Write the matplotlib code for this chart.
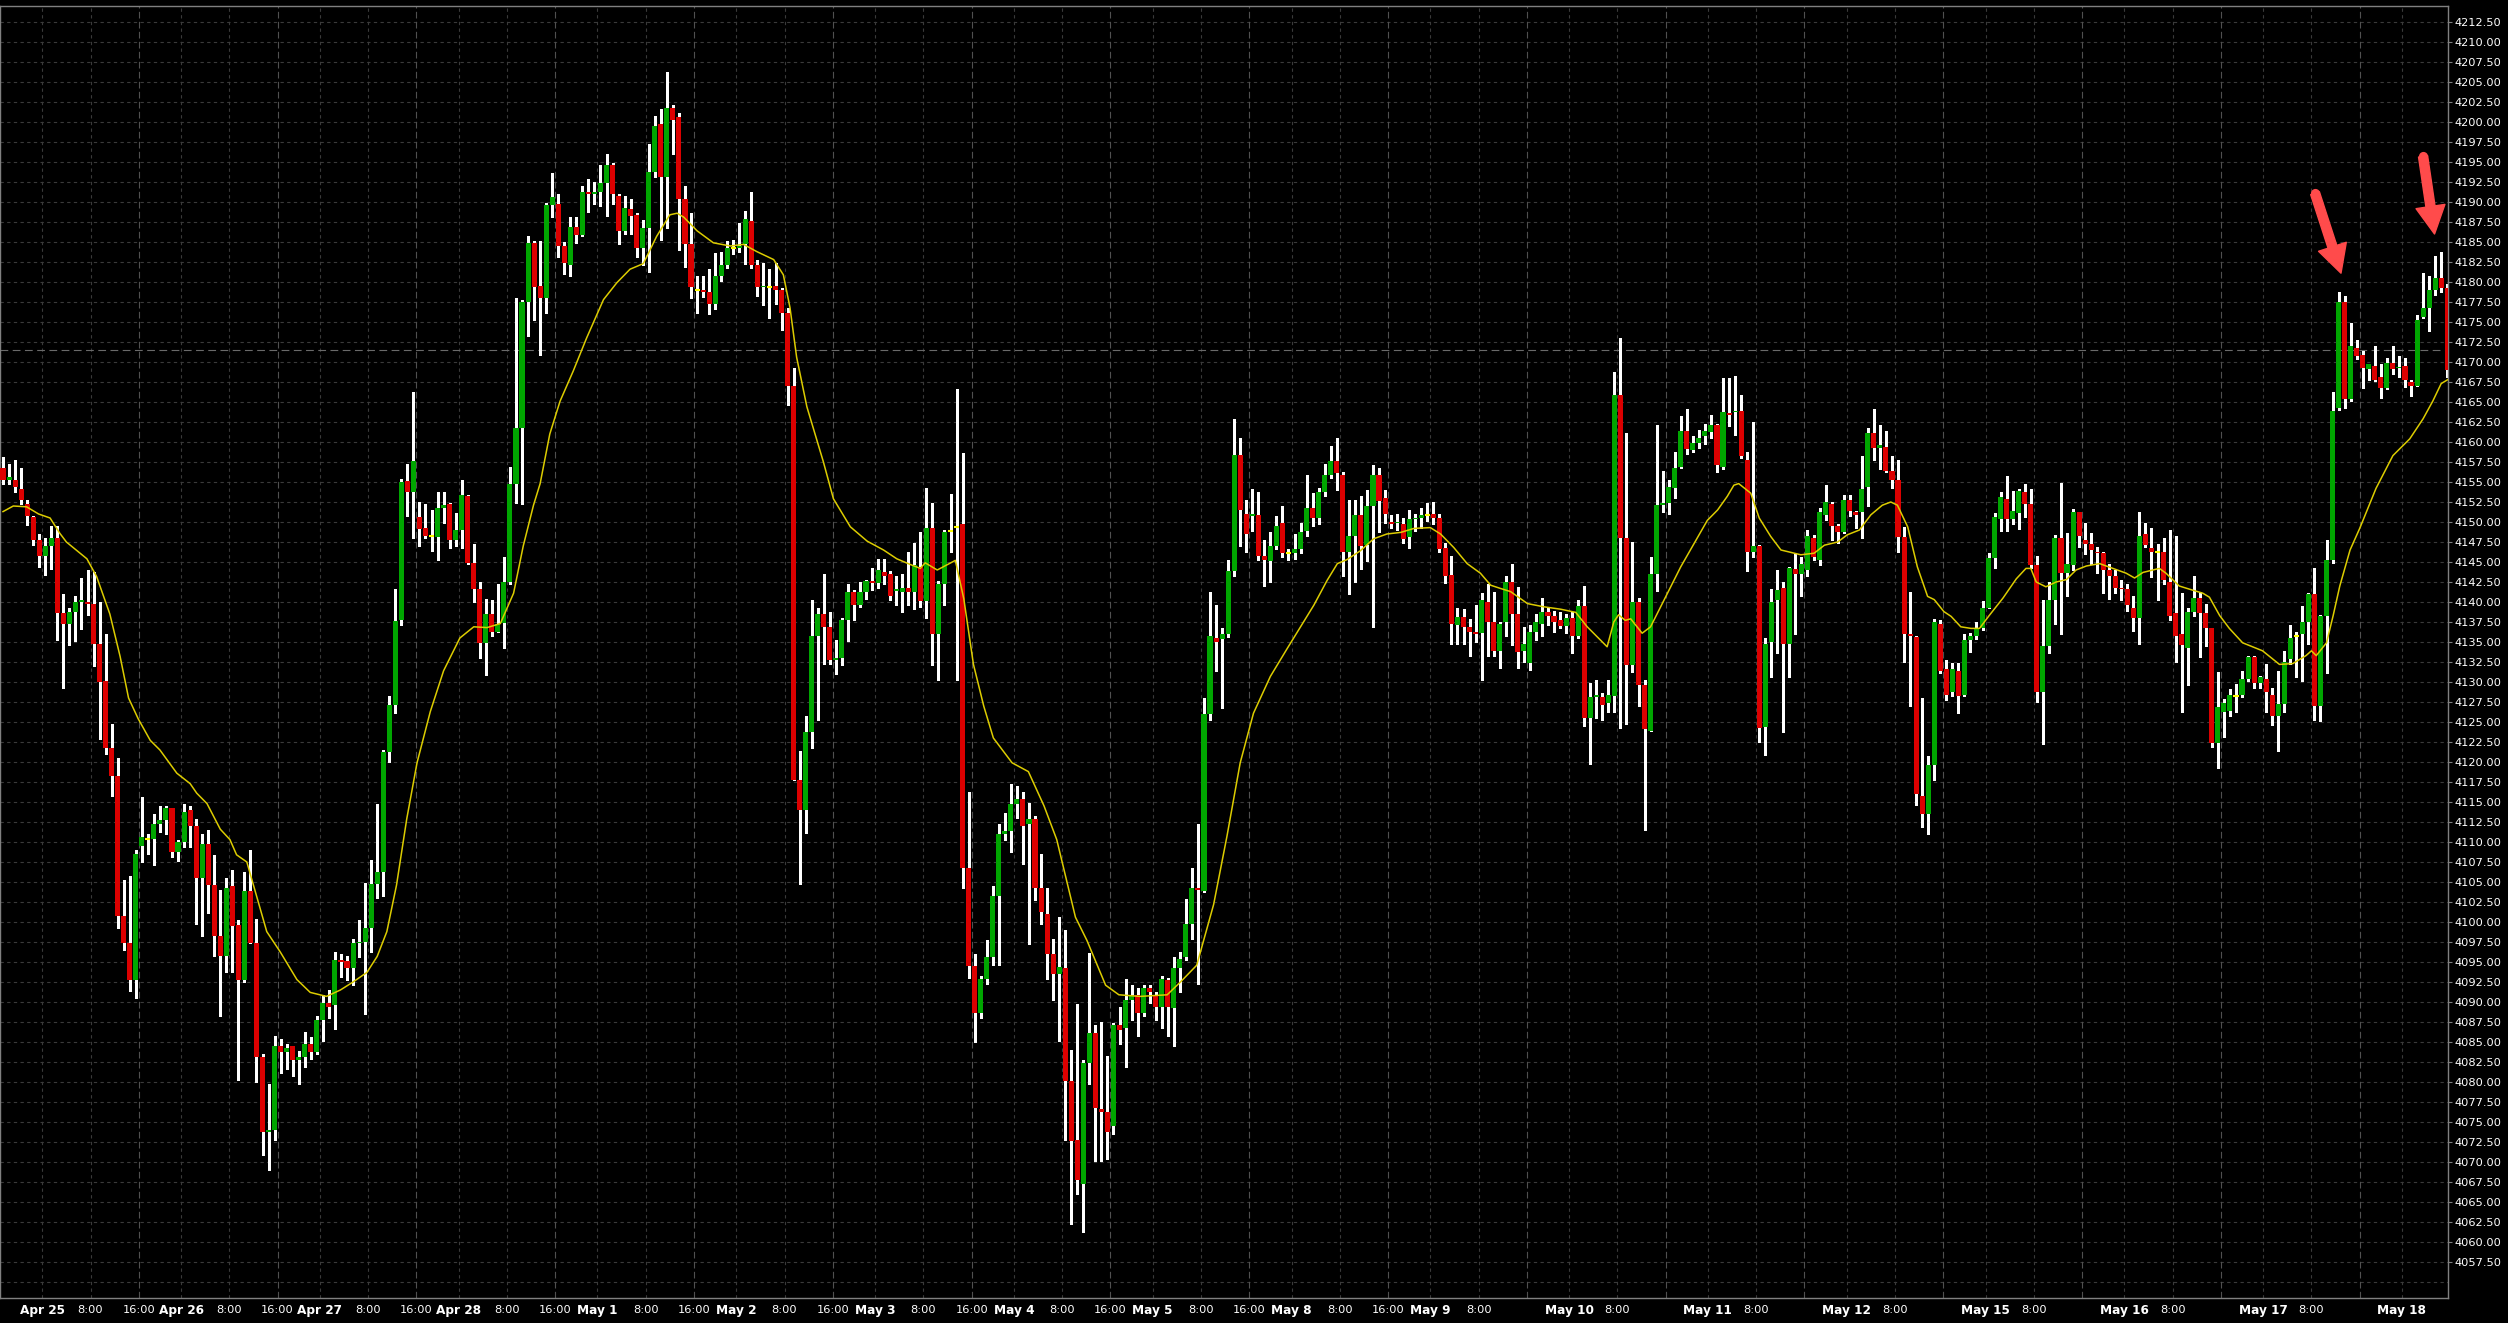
import numpy as np
import matplotlib
matplotlib.use("Agg")
import matplotlib.pyplot as plt

# hourly candles (index 0 = Apr 24 ~17:00)
opens = [
    4156.8, 4155.2, 4155.3, 4154.1, 4152.3, 4150.6, 4147.7, 4145.7, 4147.0, 4148.0,
    4138.6, 4137.2, 4138.7, 4140.0, 4140.0, 4139.7, 4134.7, 4130.1, 4121.8, 4118.2,
    4100.8, 4097.4, 4092.7, 4109.5, 4110.4, 4110.4, 4112.2, 4112.7, 4114.3, 4108.7,
    4110.0, 4114.0, 4112.0, 4105.5, 4109.7, 4104.6, 4098.2, 4095.8, 4104.5, 4099.6,
    4092.7, 4103.9, 4097.4, 4083.1, 4073.8, 4074.0, 4084.5, 4083.7, 4084.5, 4082.8,
    4083.1, 4084.8, 4083.7, 4087.7, 4089.9, 4089.6, 4095.3, 4095.1, 4094.2, 4097.4,
    4097.5, 4099.2, 4104.7, 4106.2, 4121.2, 4127.1, 4137.8, 4155.1, 4153.8, 4150.6,
    4149.2, 4148.2, 4148.1, 4151.7, 4152.3, 4147.8, 4149.0, 4153.2, 4144.9, 4141.6,
    4134.9, 4138.5, 4136.3, 4137.4, 4142.5, 4154.8, 4161.8, 4177.5, 4184.9, 4179.5,
    4178.0, 4189.6, 4189.8, 4184.5, 4182.1, 4186.9, 4185.9, 4191.3, 4191.0, 4191.3,
    4192.4, 4194.6, 4190.8, 4186.4, 4189.1, 4188.4, 4184.2, 4186.7, 4193.8, 4199.7,
    4193.1, 4201.8, 4200.6, 4190.4, 4184.7, 4179.0, 4179.0, 4178.8, 4177.3, 4180.8,
    4182.1, 4184.3, 4184.2, 4184.7, 4187.6, 4182.1, 4179.4, 4179.4, 4179.5, 4179.0,
    4176.1, 4167.0, 4117.8, 4114.0, 4123.8, 4135.8, 4138.5, 4136.9, 4132.8, 4133.0,
    4137.8, 4141.3, 4139.6, 4141.3, 4142.6, 4142.4, 4143.7, 4143.5, 4141.4, 4141.3,
    4141.7, 4141.3, 4144.4, 4140.1, 4149.2, 4136.0, 4142.2, 4148.9, 4149.4, 4149.7,
    4106.8, 4094.5, 4088.6, 4092.9, 4095.6, 4103.3, 4111.0, 4111.4, 4114.7, 4115.4,
    4112.3, 4112.9, 4104.3, 4101.0, 4096.0, 4093.5, 4094.2, 4080.1, 4072.8, 4067.3,
    4082.4, 4086.1, 4076.6, 4076.2, 4074.5, 4087.1, 4086.7, 4090.2, 4090.9, 4088.6,
    4091.7, 4090.9, 4089.4, 4092.7, 4089.2, 4094.2, 4095.6, 4099.8, 4104.3, 4103.9,
    4126.0, 4135.5, 4135.4, 4136.0, 4143.9, 4158.4, 4151.0, 4150.8, 4150.9, 4145.8,
    4145.1, 4147.0, 4149.9, 4146.1, 4146.1, 4146.6, 4148.9, 4151.8, 4150.5, 4153.8,
    4155.9, 4157.6, 4155.9, 4146.2, 4148.2, 4150.9, 4147.1, 4152.0, 4155.9, 4153.0,
    4150.0, 4149.9, 4149.7, 4148.1, 4150.4, 4150.5, 4150.9, 4151.0, 4150.5, 4146.8,
    4143.4, 4137.1, 4138.1, 4136.9, 4136.3, 4136.1, 4140.0, 4137.5, 4133.9, 4137.5,
    4142.5, 4138.5, 4133.9, 4132.4, 4136.3, 4137.3, 4138.7, 4138.2, 4137.7, 4137.0,
    4138.0, 4135.7, 4139.5, 4125.5, 4128.1, 4128.1, 4127.4, 4128.2, 4165.9, 4148.0,
    4132.1, 4140.0, 4129.6, 4123.9, 4143.5, 4152.1, 4152.4, 4154.2, 4156.9, 4161.4,
    4159.0, 4159.9, 4160.7, 4161.2, 4162.1, 4156.9, 4163.6, 4163.7, 4163.9, 4157.8,
    4146.3, 4147.0, 4124.4, 4135.0, 4140.2, 4141.7, 4134.8, 4144.1, 4143.5, 4144.0,
    4148.0, 4145.3, 4150.9, 4152.3, 4149.5, 4148.8, 4152.8, 4151.2, 4151.2, 4154.4,
    4161.1, 4159.2, 4159.4, 4156.4, 4155.3, 4148.1, 4136.0, 4135.6, 4115.7, 4113.5,
    4119.6, 4137.3, 4131.6, 4128.7, 4131.4, 4128.4, 4135.2, 4135.7, 4136.7, 4139.2,
    4145.5, 4150.4, 4152.9, 4150.4, 4151.1, 4153.7, 4152.2, 4144.6, 4128.7, 4134.5,
    4140.2, 4148.0, 4143.6, 4144.6, 4151.2, 4147.8, 4147.3, 4146.3, 4146.1, 4144.0,
    4143.3, 4141.7, 4141.6, 4139.2, 4138.0, 4148.5, 4146.7, 4146.2, 4146.3, 4142.5,
    4138.6, 4136.0, 4134.3, 4138.7, 4140.5, 4138.6, 4136.7, 4122.4, 4126.3, 4126.4,
    4128.2, 4128.4, 4130.4, 4133.1, 4129.9, 4130.4, 4128.4, 4125.8, 4127.3, 4132.9,
    4135.7, 4136.0, 4137.5, 4141.0, 4127.0, 4138.2, 4145.2, 4164.2, 4177.5, 4165.4,
    4171.7, 4170.9, 4169.1, 4169.5, 4168.1, 4166.7, 4169.9, 4169.2, 4169.5, 4167.5,
    4167.0, 4175.6, 4176.7, 4179.0, 4180.5, 4179.2,
]
highs = [
    4158.1, 4157.3, 4157.8, 4156.8, 4152.8, 4150.7, 4148.5, 4148.0, 4149.5, 4149.5,
    4141.0, 4139.2, 4140.7, 4143.0, 4144.0, 4143.8, 4140.0, 4136.0, 4124.7, 4120.5,
    4105.2, 4105.7, 4109.0, 4115.6, 4111.0, 4113.5, 4114.5, 4114.5, 4114.3, 4110.3,
    4114.7, 4114.5, 4112.9, 4111.0, 4111.5, 4108.4, 4104.0, 4105.5, 4106.5, 4100.3,
    4106.2, 4109.0, 4100.4, 4083.5, 4079.8, 4085.8, 4085.4, 4084.8, 4084.5, 4083.9,
    4086.2, 4085.6, 4088.3, 4090.9, 4091.5, 4096.3, 4096.0, 4095.7, 4097.9, 4100.2,
    4104.9, 4107.8, 4114.8, 4121.5, 4128.2, 4141.6, 4155.4, 4157.2, 4166.3, 4152.5,
    4152.3, 4151.5, 4153.8, 4153.7, 4152.4, 4151.1, 4155.2, 4153.4, 4147.3, 4142.5,
    4140.4, 4140.3, 4142.3, 4145.6, 4156.9, 4178.0, 4177.8, 4185.7, 4185.1, 4185.1,
    4189.9, 4193.6, 4191.0, 4185.0, 4188.1, 4188.1, 4192.0, 4192.9, 4192.5, 4194.6,
    4196.0, 4194.9, 4191.0, 4190.8, 4190.4, 4188.6, 4187.7, 4197.2, 4200.8, 4201.6,
    4206.3, 4202.1, 4201.1, 4192.0, 4188.6, 4180.8, 4180.8, 4181.6, 4183.6, 4183.8,
    4185.1, 4185.3, 4187.4, 4188.9, 4191.3, 4182.8, 4182.4, 4181.6, 4182.4, 4179.2,
    4176.8, 4169.2, 4121.4, 4125.7, 4140.3, 4139.2, 4143.5, 4138.7, 4135.3, 4138.0,
    4142.2, 4141.5, 4142.5, 4142.8, 4144.2, 4145.4, 4145.4, 4143.9, 4143.2, 4143.5,
    4146.3, 4147.4, 4148.8, 4154.2, 4152.4, 4142.6, 4149.0, 4153.5, 4166.6, 4158.6,
    4116.3, 4096.0, 4093.2, 4097.7, 4104.5, 4112.3, 4113.6, 4117.2, 4117.0, 4116.2,
    4114.9, 4113.3, 4108.5, 4104.2, 4097.9, 4100.6, 4099.0, 4084.0, 4089.8, 4082.8,
    4096.1, 4087.1, 4087.5, 4083.2, 4087.4, 4089.4, 4092.9, 4092.1, 4091.7, 4092.1,
    4092.1, 4091.3, 4093.2, 4093.0, 4095.6, 4096.3, 4102.9, 4106.8, 4112.2, 4128.0,
    4141.2, 4139.6, 4136.8, 4145.3, 4162.9, 4160.5, 4152.8, 4154.1, 4153.8, 4147.8,
    4148.7, 4150.7, 4152.0, 4146.6, 4148.5, 4149.9, 4155.9, 4153.6, 4154.3, 4157.2,
    4159.5, 4160.5, 4156.3, 4152.8, 4152.8, 4153.2, 4154.0, 4157.1, 4156.7, 4154.0,
    4150.9, 4151.0, 4150.5, 4151.5, 4151.0, 4151.8, 4152.4, 4152.5, 4151.0, 4147.4,
    4145.8, 4139.3, 4139.1, 4137.9, 4139.6, 4141.1, 4142.2, 4141.3, 4137.5, 4143.3,
    4144.8, 4141.9, 4136.9, 4137.1, 4138.5, 4140.5, 4139.3, 4138.9, 4138.8, 4138.5,
    4138.7, 4140.2, 4142.0, 4129.9, 4130.3, 4128.6, 4130.3, 4168.8, 4173.0, 4161.1,
    4147.5, 4140.5, 4130.2, 4145.6, 4162.1, 4156.4, 4155.2, 4158.7, 4163.2, 4164.1,
    4160.7, 4161.5, 4162.3, 4163.4, 4162.3, 4168.0, 4168.0, 4168.2, 4165.9, 4158.8,
    4162.5, 4147.1, 4135.5, 4141.6, 4144.0, 4142.5, 4144.4, 4146.1, 4145.6, 4149.0,
    4148.4, 4151.7, 4154.6, 4152.5, 4149.8, 4153.4, 4153.4, 4151.4, 4158.2, 4161.7,
    4164.1, 4162.1, 4161.4, 4158.2, 4157.8, 4149.4, 4141.3, 4135.7, 4128.0, 4120.7,
    4137.9, 4137.7, 4132.8, 4132.4, 4132.4, 4136.0, 4136.1, 4137.5, 4140.1, 4146.1,
    4151.1, 4153.7, 4155.8, 4153.9, 4154.1, 4154.8, 4154.1, 4145.7, 4140.2, 4142.5,
    4148.4, 4154.9, 4148.6, 4151.6, 4151.2, 4149.9, 4148.6, 4146.9, 4146.3, 4144.7,
    4144.0, 4142.8, 4142.2, 4140.8, 4151.2, 4149.9, 4149.2, 4147.3, 4148.0, 4149.0,
    4148.2, 4141.1, 4139.2, 4143.2, 4141.3, 4139.7, 4136.7, 4131.2, 4127.9, 4129.1,
    4129.7, 4131.4, 4133.2, 4133.2, 4130.8, 4132.2, 4129.2, 4131.4, 4133.9, 4137.1,
    4136.2, 4139.5, 4141.1, 4144.2, 4138.4, 4147.8, 4166.3, 4178.7, 4178.2, 4174.9,
    4172.8, 4171.4, 4169.8, 4172.0, 4169.8, 4170.5, 4172.0, 4170.8, 4170.5, 4167.8,
    4175.9, 4181.1, 4180.7, 4183.2, 4183.7, 4179.8,
]
lows = [
    4154.7, 4154.8, 4153.8, 4152.3, 4149.6, 4147.1, 4144.4, 4143.4, 4144.1, 4135.2,
    4129.3, 4134.6, 4135.1, 4136.6, 4138.4, 4132.0, 4122.9, 4121.0, 4115.7, 4099.2,
    4096.5, 4091.4, 4090.5, 4107.5, 4108.5, 4107.1, 4111.3, 4111.0, 4108.1, 4107.6,
    4109.4, 4109.4, 4099.8, 4098.3, 4101.1, 4095.7, 4088.3, 4093.7, 4093.7, 4080.2,
    4092.5, 4097.4, 4080.0, 4070.9, 4069.0, 4072.7, 4081.1, 4081.6, 4080.7, 4079.7,
    4081.9, 4082.9, 4083.5, 4085.1, 4088.0, 4086.6, 4093.1, 4092.8, 4092.1, 4095.6,
    4088.5, 4096.3, 4103.0, 4103.3, 4120.0, 4126.1, 4137.1, 4150.8, 4148.0, 4147.0,
    4148.0, 4146.4, 4145.3, 4149.9, 4146.7, 4147.0, 4146.7, 4144.8, 4140.0, 4133.0,
    4130.9, 4135.8, 4136.2, 4134.3, 4142.2, 4152.4, 4152.2, 4173.3, 4175.3, 4170.9,
    4176.1, 4188.1, 4183.1, 4181.0, 4180.8, 4184.9, 4185.7, 4188.8, 4189.7, 4189.5,
    4188.3, 4189.7, 4184.7, 4186.0, 4186.0, 4183.1, 4182.1, 4181.2, 4193.1, 4185.3,
    4186.7, 4196.0, 4184.0, 4181.9, 4178.0, 4176.1, 4178.1, 4176.0, 4176.6, 4180.1,
    4181.7, 4183.5, 4183.8, 4182.3, 4181.7, 4178.3, 4177.1, 4175.5, 4177.3, 4174.0,
    4164.6, 4117.8, 4104.8, 4111.1, 4121.8, 4125.2, 4132.3, 4132.2, 4131.0, 4132.1,
    4135.1, 4137.8, 4139.4, 4140.4, 4141.5, 4141.7, 4142.2, 4140.3, 4139.6, 4138.7,
    4139.6, 4139.1, 4139.4, 4138.0, 4132.1, 4130.2, 4139.6, 4146.3, 4130.3, 4104.2,
    4093.0, 4085.0, 4088.0, 4092.3, 4094.6, 4094.6, 4110.3, 4108.7, 4113.0, 4107.2,
    4097.3, 4102.8, 4099.8, 4092.9, 4090.2, 4085.1, 4072.8, 4062.3, 4066.0, 4061.2,
    4079.7, 4070.1, 4070.1, 4070.4, 4073.5, 4084.7, 4081.9, 4087.8, 4085.8, 4088.2,
    4089.9, 4087.8, 4086.7, 4085.8, 4084.5, 4091.2, 4095.3, 4097.9, 4092.3, 4103.7,
    4125.2, 4131.4, 4126.7, 4135.6, 4143.3, 4147.0, 4146.2, 4148.9, 4145.3, 4142.0,
    4142.5, 4146.6, 4145.6, 4145.3, 4145.4, 4146.1, 4148.2, 4149.5, 4149.7, 4153.2,
    4155.5, 4154.0, 4143.3, 4141.0, 4142.5, 4144.1, 4145.1, 4136.9, 4148.7, 4149.9,
    4149.3, 4149.0, 4147.4, 4146.8, 4148.9, 4149.3, 4150.1, 4149.7, 4146.2, 4142.4,
    4134.8, 4134.8, 4134.8, 4133.2, 4135.0, 4130.3, 4133.2, 4133.3, 4131.8, 4135.7,
    4134.6, 4131.8, 4132.5, 4131.5, 4135.2, 4135.7, 4137.1, 4136.3, 4136.7, 4136.1,
    4133.6, 4135.5, 4124.5, 4119.8, 4125.5, 4125.2, 4126.3, 4126.3, 4124.2, 4124.8,
    4131.3, 4127.0, 4111.5, 4123.9, 4141.4, 4151.3, 4151.0, 4153.0, 4156.7, 4158.5,
    4158.8, 4159.3, 4159.7, 4160.5, 4156.3, 4156.6, 4162.0, 4160.9, 4158.0, 4143.9,
    4145.6, 4122.5, 4120.9, 4130.6, 4133.6, 4123.8, 4130.6, 4136.0, 4140.7, 4143.2,
    4145.2, 4144.6, 4150.3, 4147.7, 4147.4, 4148.6, 4150.7, 4149.2, 4148.0, 4152.0,
    4157.7, 4156.6, 4156.3, 4154.2, 4146.2, 4132.5, 4127.0, 4114.6, 4111.9, 4111.0,
    4117.7, 4131.1, 4127.8, 4128.2, 4126.1, 4128.2, 4133.8, 4135.4, 4136.5, 4139.2,
    4144.3, 4148.9, 4148.9, 4149.8, 4149.1, 4150.6, 4144.3, 4127.5, 4122.3, 4133.6,
    4137.2, 4136.0, 4140.7, 4144.0, 4146.9, 4146.0, 4144.7, 4143.6, 4141.1, 4140.4,
    4141.1, 4140.2, 4138.9, 4136.4, 4134.7, 4146.9, 4143.1, 4140.2, 4142.2, 4137.7,
    4132.5, 4126.3, 4129.6, 4138.3, 4133.1, 4134.5, 4121.9, 4119.3, 4123.1, 4125.7,
    4126.3, 4128.1, 4130.1, 4129.3, 4129.2, 4126.3, 4124.6, 4121.4, 4126.3, 4132.2,
    4130.6, 4130.1, 4134.7, 4125.2, 4125.1, 4131.1, 4144.9, 4164.0, 4164.3, 4165.1,
    4170.4, 4166.7, 4167.8, 4167.6, 4165.5, 4166.6, 4168.5, 4168.1, 4166.9, 4165.7,
    4167.0, 4175.5, 4173.9, 4178.4, 4178.7, 4168.1,
]
closes = [
    4155.2, 4155.6, 4154.4, 4152.7, 4150.7, 4147.7, 4145.7, 4147.0, 4148.0, 4138.6,
    4137.2, 4138.7, 4140.0, 4140.3, 4139.7, 4134.7, 4130.0, 4121.8, 4118.2, 4100.8,
    4097.4, 4092.7, 4108.5, 4110.6, 4110.4, 4112.2, 4112.7, 4114.3, 4108.7, 4110.0,
    4113.8, 4112.0, 4105.5, 4109.7, 4104.6, 4098.2, 4095.8, 4104.3, 4099.5, 4092.7,
    4103.9, 4097.4, 4083.1, 4073.8, 4074.0, 4084.5, 4083.7, 4084.3, 4082.8, 4083.1,
    4084.8, 4083.7, 4087.7, 4089.9, 4089.4, 4095.3, 4095.0, 4094.2, 4097.4, 4097.5,
    4099.2, 4104.7, 4106.2, 4121.2, 4127.1, 4137.6, 4155.0, 4153.8, 4157.6, 4149.1,
    4148.3, 4148.2, 4151.7, 4152.1, 4147.8, 4149.0, 4153.4, 4144.9, 4141.6, 4134.9,
    4138.5, 4136.3, 4137.3, 4142.5, 4154.8, 4161.8, 4177.5, 4184.9, 4179.4, 4178.0,
    4189.6, 4190.6, 4184.5, 4182.4, 4186.9, 4185.9, 4191.3, 4191.0, 4191.3, 4192.4,
    4194.6, 4191.0, 4186.4, 4189.3, 4188.2, 4184.2, 4186.7, 4193.8, 4199.5, 4193.1,
    4201.8, 4200.2, 4190.4, 4184.7, 4179.4, 4179.0, 4178.7, 4177.3, 4180.8, 4182.1,
    4184.2, 4184.3, 4184.5, 4187.9, 4182.1, 4179.4, 4179.5, 4179.4, 4179.0, 4176.1,
    4167.0, 4117.8, 4114.0, 4123.8, 4135.8, 4138.5, 4136.9, 4132.8, 4133.0, 4137.8,
    4141.3, 4139.6, 4141.3, 4142.6, 4142.4, 4144.0, 4143.3, 4140.8, 4141.6, 4141.7,
    4141.3, 4144.6, 4140.1, 4149.2, 4136.0, 4142.2, 4148.7, 4148.9, 4149.4, 4106.8,
    4094.5, 4088.6, 4092.9, 4095.6, 4103.3, 4111.0, 4111.4, 4114.7, 4115.4, 4112.0,
    4112.9, 4104.3, 4101.2, 4096.0, 4093.5, 4094.4, 4080.1, 4072.6, 4067.7, 4082.4,
    4086.1, 4076.8, 4076.2, 4073.7, 4087.1, 4086.5, 4090.2, 4090.9, 4088.6, 4091.7,
    4091.3, 4089.4, 4092.9, 4089.4, 4094.2, 4095.4, 4099.8, 4104.3, 4104.0, 4126.0,
    4135.8, 4135.0, 4136.0, 4143.9, 4158.4, 4151.5, 4148.5, 4150.9, 4145.8, 4145.3,
    4147.0, 4149.5, 4146.1, 4146.1, 4146.6, 4148.7, 4151.8, 4150.5, 4153.8, 4155.9,
    4157.6, 4156.1, 4146.2, 4148.2, 4150.9, 4147.0, 4152.0, 4155.9, 4152.6, 4151.0,
    4149.8, 4150.0, 4147.9, 4150.4, 4150.5, 4150.9, 4150.9, 4150.5, 4146.6, 4143.3,
    4137.3, 4138.1, 4136.9, 4136.2, 4136.0, 4140.2, 4137.5, 4133.9, 4137.2, 4142.5,
    4138.5, 4133.7, 4134.7, 4136.3, 4137.5, 4138.7, 4138.2, 4137.5, 4137.0, 4138.0,
    4135.7, 4139.5, 4125.5, 4128.1, 4128.4, 4127.1, 4128.4, 4165.9, 4148.0, 4132.1,
    4140.0, 4129.6, 4124.1, 4143.5, 4152.1, 4152.4, 4154.4, 4156.7, 4161.4, 4159.1,
    4159.9, 4160.5, 4161.4, 4162.1, 4157.1, 4163.7, 4163.4, 4163.9, 4158.2, 4146.3,
    4147.0, 4124.2, 4134.7, 4140.0, 4141.5, 4134.8, 4144.2, 4143.5, 4144.7, 4148.2,
    4145.6, 4151.2, 4152.5, 4149.5, 4148.8, 4152.8, 4151.4, 4150.9, 4154.1, 4161.1,
    4159.2, 4159.6, 4156.4, 4155.3, 4148.1, 4136.0, 4135.7, 4116.0, 4113.5, 4119.6,
    4137.5, 4131.4, 4128.4, 4131.6, 4128.2, 4135.2, 4135.7, 4136.7, 4139.2, 4145.5,
    4150.6, 4153.1, 4150.4, 4151.4, 4153.9, 4152.2, 4144.6, 4128.7, 4134.5, 4140.2,
    4148.0, 4143.6, 4144.8, 4151.2, 4148.2, 4147.3, 4146.5, 4146.1, 4144.0, 4143.3,
    4141.7, 4141.6, 4139.6, 4138.0, 4148.2, 4147.1, 4146.3, 4146.2, 4142.8, 4138.3,
    4135.8, 4134.6, 4138.8, 4140.5, 4138.6, 4136.7, 4122.4, 4126.9, 4127.4, 4128.4,
    4128.2, 4130.4, 4133.1, 4129.9, 4130.6, 4128.7, 4125.7, 4127.2, 4132.5, 4135.5,
    4135.7, 4137.5, 4141.0, 4127.0, 4138.2, 4145.2, 4163.9, 4177.5, 4165.4, 4172.0,
    4170.8, 4169.2, 4169.8, 4167.8, 4166.7, 4169.9, 4169.1, 4169.4, 4167.8, 4167.0,
    4175.2, 4176.7, 4179.0, 4180.5, 4179.3, 4169.0,
]

# yellow moving average, read at these candle positions
ma_idx = [
    0, 1.7, 3.9, 5.9, 7.8, 9.4, 10.5, 13.9, 15.5, 17.7, 19.4, 20.8, 22.4, 24.4, 26, 28.8,
    31, 32.1, 33.8, 36, 37.6, 38.7, 40.4, 42, 43.7, 45.9, 48.7, 50.9, 53.6, 55.9, 58,
    60.3, 62, 63.6, 65.2, 66.9, 68.6, 70.8, 73, 75.7, 78, 80.2, 82.4, 84.6, 86.2, 87.9,
    89, 90.6, 92.3, 94.5, 96.7, 99.5, 101.7, 103.9, 106.1, 108.3, 110.5, 111.7, 112.8,
    115, 117.7, 120.5, 122.7, 124.9, 127.7, 129.3, 130.4, 131.5, 133.2, 135.9, 137.6,
    140.4, 143.2, 145.9, 148.1, 150.3, 152, 152.8, 154.8, 157.8, 159.2, 160.8, 162.5,
    164.1, 167.2, 169.9, 172.5, 174.6, 177.7, 179.6, 182.7, 184.9, 188.4, 192.9, 195.1,
    197.8, 200.6, 202.8, 205, 207.2, 210, 212.8, 215, 217.2, 219.4, 221.1, 222.7, 224.9,
    227.1, 229.3, 231.6, 233.8, 236.5, 238.2, 240.4, 242.6, 244.8, 246.5, 248.1, 249.8,
    252.6, 255.3, 258.1, 260.6, 262.5, 265.8, 266.9, 267.7, 268.8, 269.7, 271.6, 273,
    275.2, 278, 280.2, 282.4, 284.1, 285.7, 286.8, 287.6, 289.6, 291, 292.9, 294.6,
    297.9, 300.1, 301.8, 304, 305.6, 307.6, 309.5, 311.4, 312.8, 313.9, 315.6, 317.2,
    318.9, 320, 321.6, 322.8, 324.4, 326.1, 327.5, 329.1, 331.4, 333.6, 335.2, 336,
    336.9, 338.5, 340.2, 341.9, 343.5, 345.2, 347.4, 349.6, 351.8, 353.2, 354.6, 357.3,
    358.4, 360.6, 362.3, 364.5, 365.6, 367.3, 368.9, 371.1, 374.4, 377.2, 379.4, 381.6,
    382.5, 383.3, 385, 386.1, 387.2, 388.9, 390.5, 393.2, 396, 398.8, 401, 402.6, 404,
    405.1,
]
ma_val = [
    4151.3, 4152.0, 4151.9, 4151.0, 4150.5, 4148.6, 4147.5, 4145.4, 4143.2, 4138.5,
    4133.2, 4128.0, 4125.4, 4122.7, 4121.5, 4118.6, 4117.3, 4116.1, 4114.8, 4111.6,
    4110.3, 4108.4, 4107.5, 4103.3, 4098.8, 4096.3, 4092.8, 4091.2, 4090.7, 4091.5,
    4092.5, 4093.7, 4095.7, 4098.8, 4104.6, 4112.9, 4119.9, 4126.3, 4131.4, 4135.5,
    4136.9, 4136.8, 4137.3, 4141.1, 4147.0, 4152.1, 4154.8, 4161.0, 4165.1, 4168.9,
    4173.0, 4177.8, 4179.9, 4181.6, 4182.3, 4185.7, 4188.4, 4188.6, 4188.1, 4186.4,
    4184.9, 4184.5, 4184.7, 4183.8, 4182.8, 4180.9, 4176.8, 4170.6, 4164.4, 4157.6,
    4152.9, 4149.4, 4147.6, 4146.5, 4145.4, 4144.7, 4144.2, 4144.9, 4144.0, 4145.2,
    4140.4, 4132.2, 4127.0, 4123.0, 4119.9, 4118.8, 4114.5, 4110.3, 4100.6, 4097.7,
    4092.1, 4090.9, 4090.7, 4090.9, 4092.5, 4094.6, 4102.2, 4110.7, 4119.9, 4126.1,
    4130.7, 4134.2, 4136.9, 4139.6, 4142.7, 4144.8, 4145.3, 4146.4, 4147.9, 4148.5,
    4148.7, 4149.2, 4149.3, 4148.5, 4146.8, 4144.8, 4143.6, 4142.1, 4141.7, 4141.3,
    4139.8, 4139.4, 4139.1, 4138.7, 4136.9, 4134.4, 4137.5, 4138.4, 4137.7, 4137.9,
    4136.1, 4136.9, 4140.2, 4144.4, 4147.3, 4150.2, 4151.5, 4153.2, 4154.6, 4154.8,
    4153.6, 4150.5, 4148.2, 4146.5, 4145.9, 4146.1, 4147.1, 4147.5, 4148.4, 4149.0,
    4150.9, 4152.1, 4152.5, 4152.1, 4149.4, 4144.4, 4140.7, 4140.3, 4138.8, 4138.2,
    4136.9, 4136.7, 4136.7, 4138.3, 4140.5, 4142.9, 4144.2, 4144.2, 4142.5, 4141.9,
    4142.5, 4142.8, 4144.0, 4144.5, 4144.8, 4144.2, 4143.6, 4143.0, 4143.7, 4144.2,
    4143.6, 4142.0, 4141.6, 4141.1, 4140.6, 4138.3, 4136.7, 4134.9, 4133.9, 4132.2,
    4132.3, 4133.3, 4133.9, 4133.3, 4134.9, 4138.3, 4142.0, 4146.5, 4149.2, 4154.2,
    4158.3, 4160.4, 4162.9, 4165.1, 4167.3, 4167.8,
]

days = ["Apr 25", "Apr 26", "Apr 27", "Apr 28", "May 1", "May 2", "May 3", "May 4",
        "May 5", "May 8", "May 9", "May 10", "May 11", "May 12", "May 15", "May 16",
        "May 17", "May 18"]
last_price = 4171.5

UP = "#00a600"
DOWN = "#dc0000"
DOJI = "#ffff00"
GRID = "#3a3a3a"

W, H = 2508, 1323
fig = plt.figure(figsize=(W / 100, H / 100), dpi=100, facecolor="black")
ax = fig.add_axes([0, 25 / H, 2448 / W, 1292 / H])
ax.set_facecolor("black")
ax.set_xlim(-0.5, 405.13)
ax.set_ylim(4053.0, 4214.5)

# grid
for v in np.arange(4055, 4213, 2.5):
    ax.axhline(v, color=GRID, lw=0.8, ls=(0, (3, 3)), zorder=0)
for k in range(len(days)):
    d0 = 6.5 + 23 * k
    ax.axvline(d0, color=GRID, lw=0.8, ls=(0, (3, 3)), zorder=0)
    ax.axvline(d0 + 8, color=GRID, lw=0.8, ls=(0, (3, 3)), zorder=0)
    ax.axvline(d0 + 16, color="#505050", lw=0.8, ls=(0, (6, 3)), zorder=0)
ax.axhline(last_price, color="#6a6a6a", lw=0.8, ls=(0, (7, 4)), zorder=1)

# candles
o = np.array(opens)
h = np.array(highs)
l = np.array(lows)
c = np.array(closes)
x = np.arange(len(c))
top = np.maximum(h, np.maximum(o, c))
bot = np.minimum(l, np.minimum(o, c))
ax.vlines(x, bot, top, color="white", lw=0.75, antialiased=False, zorder=2)

up = c > o
dn = c < o
dj = c == o
ax.bar(x[up], np.maximum(c[up] - o[up], 0.15), bottom=o[up], width=0.84,
       color=UP, linewidth=0, zorder=3)
ax.bar(x[dn], np.maximum(o[dn] - c[dn], 0.15), bottom=c[dn], width=0.84,
       color=DOWN, linewidth=0, zorder=3)
ax.hlines(c[dj], x[dj] - 0.42, x[dj] + 0.42, color=DOJI, lw=1.5, zorder=3)

ax.plot(ma_idx, ma_val, color="#dccc00", lw=1.1, zorder=4)

# arrows
for tail, tip in [((383.1, 4191.1), (387.4, 4181.1)), ((401.0, 4195.7), (402.9, 4186.0))]:
    ax.annotate("", xy=tip, xytext=tail,
                arrowprops=dict(arrowstyle="simple,head_length=1.0,head_width=1.05,tail_width=0.33",
                                color="#ff4b4b", shrinkA=0, shrinkB=0, mutation_scale=20),
                zorder=6)
    ax.plot(*tail, "o", ms=6.6, color="#ff4b4b", mew=0, zorder=6)

# axes styling
for s in ax.spines.values():
    s.set_color("#808080")
    s.set_linewidth(1)
ax.set_xticks([])
ax.yaxis.tick_right()
yt = np.arange(4057.5, 4213, 2.5)
ax.set_yticks(yt)
ax.set_yticklabels([f"{v:.2f}" for v in yt])
ax.tick_params(axis="y", colors="#808080", labelcolor="white", length=3, width=0.8,
               labelsize=8.2, pad=2)

# time axis labels
tr = ax.get_xaxis_transform()
for k, d in enumerate(days):
    d0 = 6.5 + 23 * k
    ax.text(d0, -0.0093, d, transform=tr, ha="center", va="center", color="white",
            fontsize=8.7, fontweight="bold", clip_on=False)
    if k < len(days) - 1:
        ax.text(d0 + 8, -0.0093, "8:00", transform=tr, ha="center", va="center",
                color="white", fontsize=8.2, clip_on=False)
    if k <= 9:
        ax.text(d0 + 16, -0.0093, "16:00", transform=tr, ha="center", va="center",
                color="white", fontsize=8.2, clip_on=False)

fig.savefig("out.png", dpi=100, facecolor="black")
